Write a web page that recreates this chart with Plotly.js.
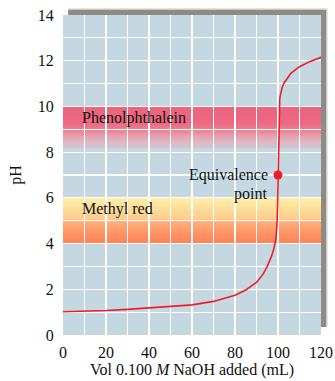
<!DOCTYPE html>
<html>
<head>
<meta charset="utf-8">
<script src="https://cdn.plot.ly/plotly-3.0.1.min.js"></script>
<style>
  html, body { margin: 0; padding: 0; background: #ffffff; }
  #chart { width: 335px; height: 381px; }
</style>
</head>
<body>
<div id="chart"></div>
<script>
// Titration of a strong acid with 0.100 M NaOH
var volumeAdded = [0, 10, 20, 30, 40, 50, 60, 70, 80, 85, 90, 93, 95, 97, 98, 99, 99.5, 99.8, 99.9, 100,
                   100.1, 100.2, 100.4, 100.6, 100.8, 101, 101.5, 102, 103, 104, 106, 108, 110, 115, 120];
var pHValues    = [1.02, 1.04, 1.07, 1.12, 1.18, 1.24, 1.32, 1.47, 1.74, 1.97, 2.3, 2.65, 3.0, 3.45, 3.75, 4.2, 4.8, 5.6, 6.2, 7.0,
                   7.8, 8.4, 9.4, 10.0, 10.3, 10.45, 10.7, 10.85, 11.05, 11.2, 11.45, 11.6, 11.74, 11.97, 12.15];

var equivalenceVolume = [100];
var equivalencePH = [7];

// Indicator colour-change ranges (pH)
var indicatorNames = ["Phenolphthalein", "Methyl red"];
var indicatorLow   = [8.2, 4.0];
var indicatorHigh  = [10.0, 6.0];

var xTicks = [0, 20, 40, 60, 80, 100, 120];
var yTicks = [0, 2, 4, 6, 8, 10, 12, 14];

// colour stops, top of band to bottom
var bandStops = [
  [[236, 100, 128], [237, 104, 130], [234, 124, 144], [230, 156, 170], [220, 186, 198], [206, 198, 210]],
  [[253, 238, 168], [253, 224, 158], [254, 204, 142], [255, 172, 122], [255, 146, 98], [255, 130, 86]]
];
var bandStopPos = [
  [0, 0.4, 0.55, 0.7, 0.87, 1],
  [0, 0.2, 0.45, 0.55, 0.8, 1]
];

function colourAt(stops, pos, t) {
  for (var i = 1; i < pos.length; i++) {
    if (t <= pos[i]) {
      var f = (t - pos[i - 1]) / (pos[i] - pos[i - 1]);
      var c = stops[i - 1].map(function (v, k) { return Math.round(v + (stops[i][k] - v) * f); });
      return 'rgb(' + c.join(',') + ')';
    }
  }
  var last = stops[stops.length - 1];
  return 'rgb(' + last.join(',') + ')';
}

var shapes = [];
var stripes = 24;
for (var b = 0; b < indicatorNames.length; b++) {
  var lo = indicatorLow[b], hi = indicatorHigh[b];
  var step = (hi - lo) / stripes;
  // each stripe runs to the bottom of the band; later ones cover the lower part
  for (var s = 0; s < stripes; s++) {
    shapes.push({
      type: 'rect', layer: 'below', xref: 'paper', yref: 'y',
      x0: 0, x1: 1, y0: lo, y1: hi - s * step,
      fillcolor: colourAt(bandStops[b], bandStopPos[b], (s + 0.5) / stripes),
      line: { width: 0 }
    });
  }
}

// raised-panel shadow along top and right of the plotting area
shapes.push({ type: 'rect', xref: 'paper', yref: 'paper', x0: 0.02, x1: 1.02, y0: 1.0, y1: 1.016,
  fillcolor: '#8c8c84', line: { width: 0 }, layer: 'above' });
shapes.push({ type: 'rect', xref: 'paper', yref: 'paper', x0: 1.0, x1: 1.02, y0: 0.025, y1: 1.016,
  fillcolor: '#8c8c84', line: { width: 0 }, layer: 'above' });
shapes.push({ type: 'rect', xref: 'paper', yref: 'paper', x0: 0.02, x1: 1.02, y0: 1.016, y1: 1.02,
  fillcolor: '#c9c9c2', line: { width: 0 }, layer: 'above' });
shapes.push({ type: 'rect', xref: 'paper', yref: 'paper', x0: 1.02, x1: 1.025, y0: 0.025, y1: 1.02,
  fillcolor: '#c9c9c2', line: { width: 0 }, layer: 'above' });

var serif = 'Liberation Serif, Times New Roman, serif';
var txt = { family: serif, size: 16, color: '#111' };

var traces = [
  {
    x: volumeAdded, y: pHValues, type: 'scatter', mode: 'lines',
    line: { color: '#ee1c25', width: 1.6 }, hoverinfo: 'skip', showlegend: false
  },
  {
    x: equivalenceVolume, y: equivalencePH, type: 'scatter', mode: 'markers',
    marker: { color: '#ee1c25', size: 9 }, hoverinfo: 'skip', showlegend: false
  }
];

var annotations = [
  { x: 8, y: 9.5, xref: 'x', yref: 'y', text: indicatorNames[0],
    showarrow: false, xanchor: 'left', yanchor: 'middle', font: txt },
  { x: 8, y: 5.5, xref: 'x', yref: 'y', text: indicatorNames[1],
    showarrow: false, xanchor: 'left', yanchor: 'middle', font: txt },
  { x: equivalenceVolume[0], y: equivalencePH[0], xref: 'x', yref: 'y', text: 'Equivalence',
    showarrow: false, xanchor: 'right', yanchor: 'middle', xshift: -8, font: txt },
  { x: equivalenceVolume[0], y: equivalencePH[0], xref: 'x', yref: 'y', text: 'point',
    showarrow: false, xanchor: 'right', yanchor: 'middle', xshift: -9, yshift: -19, font: txt }
];

var layout = {
  width: 335, height: 381,
  margin: { l: 63, r: 14, t: 15, b: 46 },
  paper_bgcolor: '#ffffff',
  plot_bgcolor: '#c5d8e2',
  showlegend: false,
  xaxis: {
    range: [0, 120], tickvals: xTicks, ticktext: xTicks.map(String),
    showgrid: true, gridcolor: '#ffffff', gridwidth: 1.2,
    minor: { dtick: 10, showgrid: true, gridcolor: '#ffffff', gridwidth: 1.2 },
    zeroline: false, showline: false,
    ticks: 'outside', ticklen: 3, tickcolor: 'rgba(0,0,0,0)',
    tickfont: txt,
    title: { text: 'Vol 0.100 <i>M</i> NaOH added (mL)', font: txt, standoff: 2 }
  },
  yaxis: {
    range: [0, 14], tickvals: yTicks, ticktext: yTicks.map(String),
    showgrid: true, gridcolor: '#ffffff', gridwidth: 1.2,
    minor: { dtick: 1, showgrid: true, gridcolor: '#ffffff', gridwidth: 1.2 },
    zeroline: false, showline: false,
    ticks: 'outside', ticklen: 5, tickcolor: 'rgba(0,0,0,0)',
    tickfont: txt,
    title: { text: 'pH', font: txt, standoff: 12 }
  },
  shapes: shapes,
  annotations: annotations
};

Plotly.newPlot('chart', traces, layout, { displayModeBar: false, staticPlot: true });
</script>
</body>
</html>
